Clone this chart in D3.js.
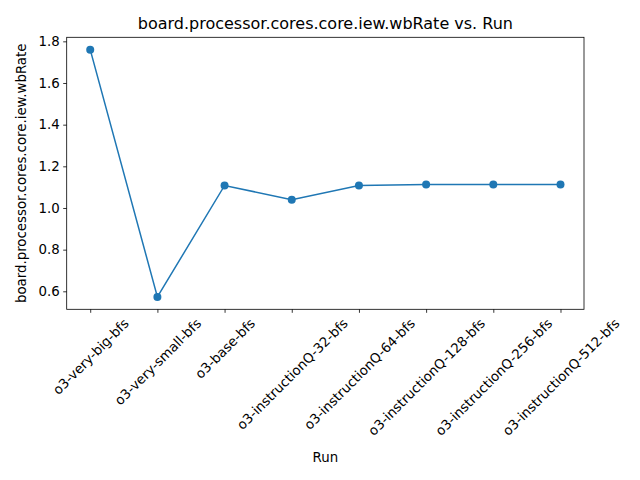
<!DOCTYPE html>
<html lang="en">
<head>
<meta charset="UTF-8">
<title>wbRate vs. Run</title>
<style>
  body { margin: 0; background: #fff; }
  text { font-family: "DejaVu Sans", sans-serif; fill: #000; }
</style>
</head>
<body>
<div id="chart"></div>
<script src="https://cdn.jsdelivr.net/npm/d3@7"></script>
<script>
// data
var runs = ["o3-very-big-bfs", "o3-very-small-bfs", "o3-base-bfs",
            "o3-instructionQ-32-bfs", "o3-instructionQ-64-bfs",
            "o3-instructionQ-128-bfs", "o3-instructionQ-256-bfs",
            "o3-instructionQ-512-bfs"];
var wbRate = [1.760, 0.573, 1.108, 1.040, 1.108, 1.113, 1.113, 1.113];
var yTicks = [0.6, 0.8, 1.0, 1.2, 1.4, 1.6, 1.8];

var width = 640, height = 480;
var margin = { left: 66.7, right: 56, top: 37.3, bottom: 170.7 };
var x0 = margin.left, x1 = width - margin.right;
var y0 = height - margin.bottom, y1 = margin.top;

var svg = d3.select("#chart").append("svg")
    .attr("width", width)
    .attr("height", height);

// matplotlib-like 5% margins
var n = runs.length;
var x = d3.scaleLinear()
    .domain([-0.35, n - 1 + 0.35])
    .range([x0, x1]);

var yMin = d3.min(wbRate), yMax = d3.max(wbRate);
var pad = (yMax - yMin) * 0.05;
var y = d3.scaleLinear()
    .domain([yMin - pad, yMax + pad])
    .range([y0, y1]);

// y axis
var yAxis = d3.axisLeft(y)
    .tickValues(yTicks)
    .tickFormat(d3.format(".1f"))
    .tickSize(3.5)
    .tickPadding(3.5);
var gy = svg.append("g")
    .attr("transform", "translate(" + x0 + ",0)")
    .call(yAxis);
gy.select(".domain").remove();
gy.selectAll("text").style("font-size", "13.33px").attr("fill", "#000");
gy.selectAll("line").attr("stroke", "#000").attr("stroke-width", 0.8);

// x axis
var xAxis = d3.axisBottom(x)
    .tickValues(d3.range(n))
    .tickFormat(function(i) { return runs[i]; })
    .tickSize(3.5)
    .tickPadding(3.5);
var gx = svg.append("g")
    .attr("transform", "translate(0," + y0 + ")")
    .call(xAxis);
gx.select(".domain").remove();
gx.selectAll("line").attr("stroke", "#000").attr("stroke-width", 0.8);

// rotate labels 45deg, keep bbox centred under the tick
gx.selectAll(".tick text")
    .style("font-size", "13.33px")
    .attr("fill", "#000")
    .attr("text-anchor", "middle")
    .attr("dy", "0.35em")
    .attr("y", 0)
    .each(function() {
        var w = this.getComputedTextLength();
        var h = 13.33;
        var off = 7 + (w / 2 + h / 2) * Math.SQRT1_2;
        d3.select(this).attr("transform", "translate(0," + off + ") rotate(-45)");
    });

// frame
svg.append("rect")
    .attr("x", x0).attr("y", y1)
    .attr("width", x1 - x0).attr("height", y0 - y1)
    .attr("fill", "none")
    .attr("stroke", "#000")
    .attr("stroke-width", 0.8);

// line + markers
var line = d3.line()
    .x(function(d, i) { return x(i); })
    .y(function(d) { return y(d); });

svg.append("path")
    .datum(wbRate)
    .attr("d", line)
    .attr("fill", "none")
    .attr("stroke", "#1f77b4")
    .attr("stroke-width", 1.5);

svg.selectAll("circle")
    .data(wbRate)
    .enter()
    .append("circle")
    .attr("cx", function(d, i) { return x(i); })
    .attr("cy", function(d) { return y(d); })
    .attr("r", 4)
    .attr("fill", "#1f77b4");

// title and axis labels
svg.append("text")
    .attr("x", (x0 + x1) / 2)
    .attr("y", 29)
    .attr("text-anchor", "middle")
    .style("font-size", "16px")
    .text("board.processor.cores.core.iew.wbRate vs. Run");

svg.append("text")
    .attr("x", (x0 + x1) / 2)
    .attr("y", 461.5)
    .attr("text-anchor", "middle")
    .style("font-size", "13.33px")
    .text("Run");

svg.append("text")
    .attr("transform", "translate(26," + ((y0 + y1) / 2) + ") rotate(-90)")
    .attr("text-anchor", "middle")
    .style("font-size", "13.33px")
    .text("board.processor.cores.core.iew.wbRate");
</script>
</body>
</html>
